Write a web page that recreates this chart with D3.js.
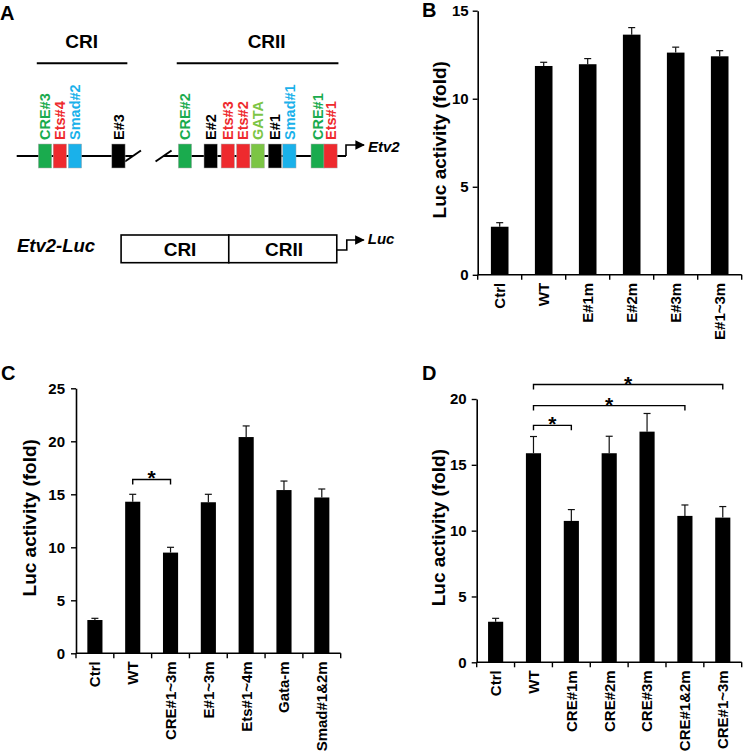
<!DOCTYPE html>
<html><head><meta charset="utf-8">
<script src="https://cdn.jsdelivr.net/npm/d3@7"></script>
<style>
body{margin:0;background:#fff}
svg{display:block;font-family:Arial,"Liberation Sans",sans-serif}
</style>
</head><body>
<svg id="chart" width="745" height="754"></svg>
<script>
// ---------- Panel A: schematic (positions in schematic units 0..100) ----------
const siteNames = ["CRE#3","Ets#4","Smad#2","E#3","CRE#2","E#2","Ets#3","Ets#2","GATA","E#1","Smad#1","CRE#1","Ets#1"];
const siteTypes = ["CRE","Ets","Smad","E","CRE","E","Ets","Ets","GATA","E","Smad","CRE","Ets"];
const sitePos = [8.6,13.1,17.7,30.9,51.1,58.9,64.1,68.8,73.2,78.4,82.8,91.4,95.3];
const regionNames = ["CRI","CRII"];
const regionStart = [6.1,48.6];
const regionEnd = [33.6,97.7];
const regionLabelPos = [19.7,75.9];
const breakPos = [35.3,44.6];
const constructParts = ["CRI","CRII"];
const constructBounds = [31.7,64.4,97.2];
const constructLabelPos = [49.6,81.2];

// ---------- Panel B ----------
const catsB = ["Ctrl","WT","E#1m","E#2m","E#3m","E#1~3m"];
const valsB = [2.73,11.86,11.96,13.64,12.62,12.41];
const errB  = [0.23,0.21,0.32,0.40,0.31,0.32];
const ticksB = [0,5,10,15];
const sigB = [];

// ---------- Panel C ----------
const catsC = ["Ctrl","WT","CRE#1~3m","E#1~3m","Ets#1~4m","Gata-m","Smad#1&2m"];
const valsC = [3.14,14.3,9.5,14.25,20.4,15.4,14.7];
const errC  = [0.16,0.7,0.5,0.75,1.05,0.85,0.8];
const ticksC = [0,5,10,15,20,25];
const sigC = [["WT","CRE#1~3m",16.4]];

// ---------- Panel D ----------
const catsD = ["Ctrl","WT","CRE#1m","CRE#2m","CRE#3m","CRE#1&2m","CRE#1~3m"];
const valsD = [3.08,15.88,10.74,15.88,17.52,11.12,10.99];
const errD  = [0.26,1.27,0.86,1.29,1.38,0.83,0.84];
const ticksD = [0,5,10,15,20];
const sigD = [["WT","CRE#1m",18.0],["WT","CRE#1&2m",19.5],["WT","CRE#1~3m",21.1]];

const typeColor = {CRE:"#1aab4e",Ets:"#ee2a2e",Smad:"#1ab1ea",GATA:"#7cc545",E:"#000000"};

const svg = d3.select("#chart");

// panel letters
const letters = [["A",0,20],["B",422,17],["C",1,380],["D",422,380]];
svg.selectAll("text.letter").data(letters).join("text")
  .attr("class","letter").attr("x",d=>d[1]).attr("y",d=>d[2])
  .attr("font-size",20).attr("font-weight","bold").text(d=>d[0]);

// ---------- Panel A drawing ----------
(function(){
  const g = svg.append("g");
  const u = d3.scaleLinear().domain([0,100]).range([16.7,346]);
  const lineY = 156, boxH = 24, boxW = u(4.04)-u(0);
  // region headers
  regionNames.forEach((n,i)=>{
    g.append("line").attr("x1",u(regionStart[i])).attr("x2",u(regionEnd[i]))
      .attr("y1",63.3).attr("y2",63.3).attr("stroke","#000").attr("stroke-width",2);
    g.append("text").attr("x",u(regionLabelPos[i])).attr("y",48).attr("text-anchor","middle")
      .attr("font-size",19).attr("font-weight","bold").text(n);
  });
  // DNA line with break
  g.append("line").attr("x1",u(0)).attr("x2",u(breakPos[0])).attr("y1",lineY).attr("y2",lineY)
    .attr("stroke","#000").attr("stroke-width",2);
  g.append("line").attr("x1",u(breakPos[1])).attr("x2",u(100)).attr("y1",lineY).attr("y2",lineY)
    .attr("stroke","#000").attr("stroke-width",2);
  breakPos.forEach(b=>{
    g.append("line").attr("x1",u(b)-8).attr("x2",u(b)+8).attr("y1",lineY+5.5).attr("y2",lineY-5.5)
      .attr("stroke","#000").attr("stroke-width",2);
  });
  // sites
  g.selectAll("rect.site").data(siteNames).join("rect").attr("class","site")
    .attr("x",(d,i)=>u(sitePos[i])-boxW/2).attr("width",boxW)
    .attr("y",lineY-boxH/2).attr("height",boxH)
    .attr("fill",(d,i)=>typeColor[siteTypes[i]]).attr("stroke","#aaa").attr("stroke-width",0.5);
  g.selectAll("text.site").data(siteNames).join("text").attr("class","site")
    .attr("transform",(d,i)=>`translate(${u(sitePos[i])},140) rotate(-90)`)
    .attr("dy","0.36em").attr("font-size",14.5).attr("font-weight","bold")
    .attr("fill",(d,i)=>typeColor[siteTypes[i]]).text(d=>d);
  // promoter arrow
  const defs = svg.append("defs");
  defs.append("marker").attr("id","ah").attr("viewBox","0 0 10 10").attr("refX",9).attr("refY",5)
    .attr("markerWidth",6).attr("markerHeight",6).attr("orient","auto")
    .append("path").attr("d","M0,0 L10,5 L0,10 Z").attr("fill","#000");
  const px = u(100);
  g.append("path").attr("d",`M${px},${lineY} V${lineY-11} H${px+18}`).attr("fill","none")
    .attr("stroke","#000").attr("stroke-width",1.6).attr("marker-end","url(#ah)");
  g.append("text").attr("x",px+22).attr("y",lineY-4).attr("font-size",15).attr("font-weight","bold")
    .attr("font-style","italic").text("Etv2");

  // construct
  const cy0 = 235, cy1 = 262.7, cMid = 250;
  g.append("text").attr("x",17).attr("y",251.7).attr("font-size",18.5).attr("font-weight","bold")
    .attr("font-style","italic").text("Etv2-Luc");
  constructParts.forEach((n,i)=>{
    g.append("rect").attr("x",u(constructBounds[i])).attr("width",u(constructBounds[i+1])-u(constructBounds[i]))
      .attr("y",cy0).attr("height",cy1-cy0).attr("fill","#fff").attr("stroke","#000").attr("stroke-width",1.6);
    g.append("text").attr("x",u(constructLabelPos[i])).attr("y",256).attr("text-anchor","middle")
      .attr("font-size",19).attr("font-weight","bold").text(n);
  });
  const cx = u(constructBounds[2]);
  g.append("path").attr("d",`M${cx},${cMid} H${cx+10} V${cMid-10} H${cx+27}`).attr("fill","none")
    .attr("stroke","#000").attr("stroke-width",1.6).attr("marker-end","url(#ah)");
  g.append("text").attr("x",cx+31).attr("y",243.5).attr("font-size",15).attr("font-weight","bold")
    .attr("font-style","italic").text("Luc");
})();

// ---------- Bar panels ----------
function barPanel(cats, vals, errs, ticks, sig, geo){
  const g = svg.append("g");
  const x = d3.scaleBand().domain(cats).range([geo.x0,geo.x1]).paddingInner(0.6).paddingOuter(0.3);
  const y = d3.scaleLinear().domain([0,ticks[ticks.length-1]]).range([geo.y0,geo.yTop]);
  const cx = d => x(d)+x.bandwidth()/2;
  // bars
  g.selectAll("rect.bar").data(cats).join("rect").attr("class","bar")
    .attr("x",d=>x(d)).attr("width",x.bandwidth())
    .attr("y",(d,i)=>y(vals[i])).attr("height",(d,i)=>y(0)-y(vals[i])).attr("fill","#000");
  // error bars (upper)
  g.selectAll("line.err").data(cats).join("line").attr("class","err")
    .attr("x1",cx).attr("x2",cx).attr("y1",(d,i)=>y(vals[i])).attr("y2",(d,i)=>y(vals[i]+errs[i]))
    .attr("stroke","#111").attr("stroke-width",1.2);
  g.selectAll("line.cap").data(cats).join("line").attr("class","cap")
    .attr("x1",d=>cx(d)-3.5).attr("x2",d=>cx(d)+3.5)
    .attr("y1",(d,i)=>y(vals[i]+errs[i])).attr("y2",(d,i)=>y(vals[i]+errs[i]))
    .attr("stroke","#111").attr("stroke-width",1.2);
  // y axis
  const ya = g.append("g").attr("transform",`translate(${geo.x0},0)`)
    .call(d3.axisLeft(y).tickValues(ticks).tickSize(5).tickSizeOuter(0).tickPadding(geo.tickPad));
  ya.select(".domain").attr("stroke-width",1.6);
  ya.selectAll(".tick line").attr("stroke-width",1.4);
  ya.selectAll(".tick text").attr("font-size",15).attr("font-weight","bold")
    .attr("font-family",'Arial,"Liberation Sans",sans-serif').attr("fill","#000");
  // x axis
  g.append("line").attr("x1",geo.x0).attr("x2",geo.x1).attr("y1",geo.y0).attr("y2",geo.y0)
    .attr("stroke","#000").attr("stroke-width",1.6);
  const step = x.step();
  g.selectAll("line.xt").data(d3.range(cats.length+1)).join("line").attr("class","xt")
    .attr("x1",k=>geo.x0+k*step).attr("x2",k=>geo.x0+k*step)
    .attr("y1",geo.y0).attr("y2",geo.y0+5).attr("stroke","#000").attr("stroke-width",1.4);
  g.selectAll("text.xl").data(cats).join("text").attr("class","xl")
    .attr("transform",d=>`translate(${cx(d)},${geo.y0+8}) rotate(-90)`)
    .attr("text-anchor","end").attr("dy","0.36em").attr("font-size",15).attr("font-weight","bold").text(d=>d);
  // title
  g.append("text").attr("transform",`translate(${geo.titleX},${(geo.y0+geo.yTop)/2-3}) rotate(-90)`)
    .attr("text-anchor","middle").attr("dy","0.36em").attr("font-size",19).attr("font-weight","bold")
    .text("Luc activity (fold)");
  // significance brackets
  sig.forEach(s=>{
    const a = cx(s[0]), b = cx(s[1]), yy = y(s[2]);
    g.append("path").attr("d",`M${a},${yy+5} V${yy} H${b} V${yy+5}`).attr("fill","none")
      .attr("stroke","#000").attr("stroke-width",1.4);
    g.append("text").attr("x",(a+b)/2).attr("y",yy+6).attr("text-anchor","middle")
      .attr("font-size",21).attr("font-weight","bold").text("*");
  });
}

barPanel(catsB, valsB, errB, ticksB, sigB, {x0:477.7,x1:741.7,y0:274.8,yTop:10.7,titleX:439,tickPad:4});
barPanel(catsC, valsC, errC, ticksC, sigC, {x0:76,x1:340.7,y0:653.3,yTop:388.3,titleX:29,tickPad:6});
barPanel(catsD, valsD, errD, ticksD, sigD, {x0:476.7,x1:741.7,y0:662.3,yTop:399,titleX:438.3,tickPad:5});
</script>
</body></html>
